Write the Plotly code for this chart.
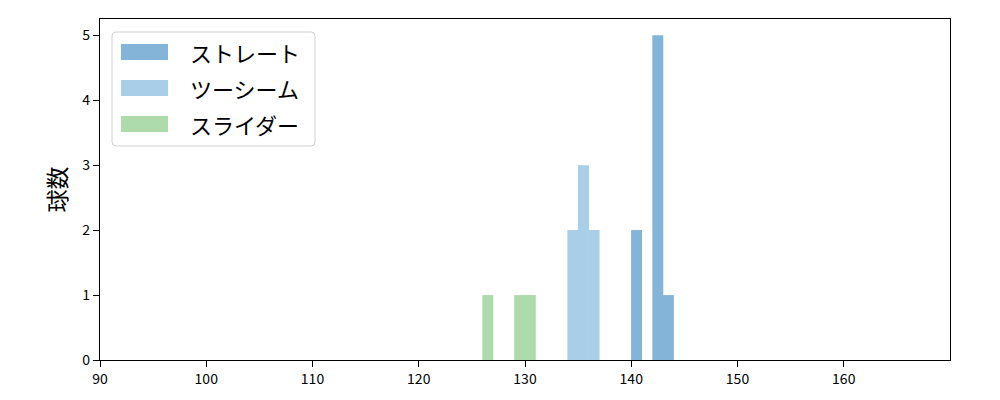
import plotly.graph_objects as go

# bin left edges and counts per pitch type
straight_edges = [140, 142, 143]
straight_counts = [2, 5, 1]
twoseam_edges = [134, 135, 136]
twoseam_counts = [2, 3, 2]
slider_edges = [126, 129, 130]
slider_counts = [1, 1, 1]
bin_width = 1.0

series_names = ["ストレート", "ツーシーム", "スライダー"]
series_colors = ["#84b4d8", "#a8cfe7", "#addbab"]

x_ticks = [90, 100, 110, 120, 130, 140, 150, 160]
y_ticks = [0, 1, 2, 3, 4, 5]

FONT = "Noto Sans CJK JP"
OFF = 8  # page body margin

fig = go.Figure()
for edges, counts, name, color in zip(
    [straight_edges, twoseam_edges, slider_edges],
    [straight_counts, twoseam_counts, slider_counts],
    series_names, series_colors):
    fig.add_trace(go.Bar(
        x=[e + bin_width / 2 for e in edges], y=counts, width=bin_width * 1.03,
        name=name, marker=dict(color=color, line=dict(width=0)),
        showlegend=False))

fig.update_layout(
    width=1000, height=400, barmode="overlay",
    margin=dict(l=100 - OFF, r=50 + OFF, t=19 - OFF, b=40 + OFF),
    plot_bgcolor="white", paper_bgcolor="white",
    font=dict(family=FONT, color="black", size=14),
)
fig.update_xaxes(range=[90, 170], tickvals=x_ticks, ticks="outside", ticklen=6,
                 tickcolor="black", showline=True, linecolor="black", linewidth=1.2,
                 mirror=True, showgrid=False, zeroline=False,
                 tickfont=dict(size=14, family=FONT))
fig.update_yaxes(range=[0, 5.25], tickvals=y_ticks, ticks="outside", ticklen=6,
                 tickcolor="black", showline=True, linecolor="black", linewidth=1.2,
                 mirror=True, showgrid=False, zeroline=False,
                 tickfont=dict(size=14, family=FONT),
                 title=dict(text="球数", font=dict(size=23, family=FONT), standoff=9))

def px(x):
    return (x - 100) / 850

def py(y):
    return (360 - y) / 341

# legend frame with rounded corners (pixel coords converted to paper)
x0, x1, y0, y1, r = 112, 315, 32, 146, 4
def pt(x, y):
    return f"{px(x):.5f},{py(y):.5f}"
path = (f"M {pt(x0 + r, y0)} L {pt(x1 - r, y0)} Q {pt(x1, y0)} {pt(x1, y0 + r)} "
        f"L {pt(x1, y1 - r)} Q {pt(x1, y1)} {pt(x1 - r, y1)} "
        f"L {pt(x0 + r, y1)} Q {pt(x0, y1)} {pt(x0, y1 - r)} "
        f"L {pt(x0, y0 + r)} Q {pt(x0, y0)} {pt(x0 + r, y0)} Z")
fig.add_shape(type="path", xref="paper", yref="paper", path=path,
              line=dict(color="#d0d0d0", width=1), fillcolor="rgba(255,255,255,0.8)")
row_centers = [52, 88, 124]
for yc, name, color in zip(row_centers, series_names, series_colors):
    fig.add_shape(type="rect", xref="paper", yref="paper",
                  x0=px(121), x1=px(168), y0=py(yc + 8), y1=py(yc - 8),
                  line=dict(width=0), fillcolor=color)
    fig.add_annotation(xref="paper", yref="paper", x=px(188), y=py(yc),
                       text=name, showarrow=False, xanchor="left", yanchor="middle",
                       font=dict(size=22, family=FONT, color="black"))

fig.write_html("out.html")
